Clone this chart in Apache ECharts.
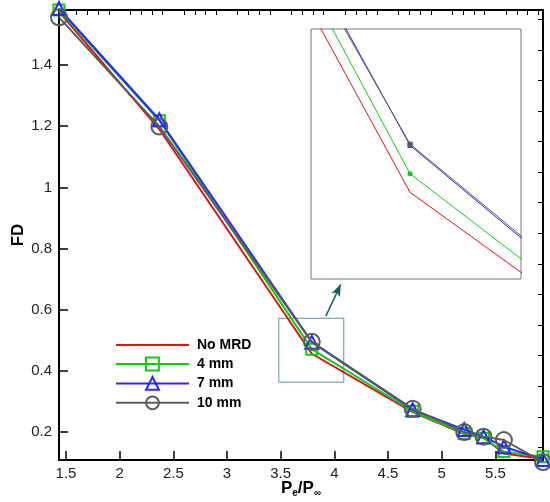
<!DOCTYPE html>
<html>
<head>
<meta charset="utf-8">
<script src="https://cdn.jsdelivr.net/npm/echarts@6/dist/echarts.min.js"></script>
<style>
html, body { margin: 0; padding: 0; background: #fff; }
#chart-container { width: 550px; height: 502px; }
</style>
</head>
<body>
<div id="chart-container"></div>
<script>
// Pe/Pinf values (x) and FD for each case
const xValues = [1.435, 2.37, 3.79, 4.73, 5.21, 5.39, 5.58, 5.944];
const noMrd = [1.575, 1.19, 0.456, 0.265, 0.193, 0.182, 0.130, 0.112];
const mm4 = [1.58, 1.218, 0.471, 0.268, 0.195, 0.180, 0.136, 0.119];
const mm7 = [1.585, 1.221, 0.494, 0.273, 0.208, 0.185, 0.152, 0.110];
const mm10 = [1.556, 1.199, 0.495, 0.276, 0.200, 0.185, 0.174, 0.102];

const xTicks = [1.5, 2, 2.5, 3, 3.5, 4, 4.5, 5, 5.5];
const yTicks = [0.2, 0.4, 0.6, 0.8, 1, 1.2, 1.4];

// minor ticks (0.1 on x, 0.05 on y)
const xMinor = [];
for (let i = 15; i <= 59; i++) if (i % 5) xMinor.push(i / 10);
const yMinor = [];
for (let i = 3; i <= 31; i++) if (i % 2 === 1) yMinor.push(i / 20);

const pairs = arr => xValues.map((x, i) => [x, arr[i]]);

const font = '"Liberation Sans", Arial, sans-serif';

const mainSeries = (name, arr, color, symbol, size, z) => ({
	name: name,
	type: 'line',
	xAxisIndex: 0,
	yAxisIndex: 0,
	data: pairs(arr),
	symbol: symbol,
	symbolSize: size,
	clip: false,
	z: z,
	lineStyle: { color: color, width: 2 },
	itemStyle: { color: 'rgba(255,255,255,0)', borderColor: color, borderWidth: symbol === 'none' ? 0 : 2 },
	emphasis: { disabled: true }
});

const insetSeries = (name, arr, color, symbol, size, z) => ({
	name: name + ' (zoom)',
	type: 'line',
	xAxisIndex: 2,
	yAxisIndex: 2,
	data: pairs(arr),
	symbol: symbol,
	symbolSize: size,
	showSymbol: symbol !== 'none',
	clip: true,
	z: z,
	lineStyle: { color: color, width: 1 },
	itemStyle: { color: color },
	emphasis: { disabled: true }
});

const red = '#e01010';
const green = '#10cc10';
const blue = '#2828ff';
const gray = '#5c5c5c';

const myChart = echarts.init(document.getElementById('chart-container'));

const redMain = mainSeries('No MRD', noMrd, red, 'none', 0, 2);
// zoom box + arrow pointing to the inset
redMain.markArea = {
	silent: true,
	itemStyle: { color: 'rgba(0,0,0,0)', borderColor: '#5a9898', borderWidth: 1 },
	data: [[{ coord: [3.483, 0.572] }, { coord: [4.088, 0.363] }]]
};
redMain.markLine = {
	silent: true,
	symbol: ['none', 'arrow'],
	symbolSize: [7, 12],
	label: { show: false },
	lineStyle: { color: '#1e5c5c', width: 1.5, type: 'solid' },
	data: [[{ coord: [3.921, 0.579] }, { coord: [4.06, 0.683] }]]
};

const option = {
	animation: false,
	backgroundColor: '#fff',
	grid: [
		{ left: 59, top: 10, right: 7, bottom: 42, outerBoundsMode: 'none', containLabel: false, show: true, borderColor: '#000', borderWidth: 2 },
		{ left: 311, top: 29, width: 210, height: 250, outerBoundsMode: 'none', containLabel: false, show: true, borderColor: '#777', borderWidth: 1, backgroundColor: '#fff' }
	],
	legend: {
		orient: 'vertical',
		left: 110,
		top: 333,
		itemWidth: 73,
		itemHeight: 16,
		itemGap: 4.6,
		textStyle: { fontFamily: font, fontWeight: 'bold', fontSize: 14, color: '#000', padding: [0, 0, 0, 3] },
		data: ['No MRD', '4 mm', '7 mm', '10 mm']
	},
	xAxis: [
		{
			type: 'value', gridIndex: 0, min: 1.435, max: 5.944,
			name: 'P{s|e}/P{s|∞}',
			nameLocation: 'middle',
			nameGap: 19,
			nameMoveOverlap: false,
			nameTextStyle: {
				fontFamily: font, fontWeight: 'bold', fontSize: 17, color: '#000',
				rich: { s: { fontFamily: font, fontSize: 10, color: '#000', padding: [9, 0, 0, 0] } }
			},
			axisLine: { lineStyle: { color: '#000', width: 2 } },
			axisTick: { inside: true, length: 9, customValues: xTicks, lineStyle: { color: '#000', width: 1.5 } },
			axisLabel: { customValues: xTicks, fontFamily: font, fontSize: 15, color: '#222', margin: 6 },
			splitLine: { show: false }
		},
		{
			type: 'value', gridIndex: 0, min: 1.435, max: 5.944,
			axisLine: { show: false },
			axisTick: { inside: true, length: 5, customValues: xMinor, lineStyle: { color: '#000', width: 1 } },
			axisLabel: { show: false },
			splitLine: { show: false }
		},
		{ type: 'value', gridIndex: 1, min: 3.506, max: 4.108, show: false, splitLine: { show: false } }
	],
	yAxis: [
		{
			type: 'value', gridIndex: 0, min: 0.1086, max: 1.58,
			name: 'FD',
			nameLocation: 'middle',
			nameGap: 32,
			nameMoveOverlap: false,
			nameRotate: 90,
			nameTextStyle: { fontFamily: font, fontWeight: 'bold', fontSize: 17, color: '#000' },
			axisLine: { lineStyle: { color: '#000', width: 2 } },
			axisTick: { inside: true, length: 9, customValues: yTicks, lineStyle: { color: '#000', width: 1.5 } },
			axisLabel: { customValues: yTicks, fontFamily: font, fontSize: 15, color: '#222', margin: 7 },
			splitLine: { show: false }
		},
		{
			type: 'value', gridIndex: 0, min: 0.1086, max: 1.58,
			axisLine: { show: false },
			axisTick: { inside: true, length: 5, customValues: yMinor, lineStyle: { color: '#000', width: 1 } },
			axisLabel: { show: false },
			splitLine: { show: false }
		},
		{ type: 'value', gridIndex: 1, min: 0.386, max: 0.588, show: false, splitLine: { show: false } }
	],
	series: [
		redMain,
		mainSeries('4 mm', mm4, green, 'rect', 11, 3),
		mainSeries('7 mm', mm7, blue, 'triangle', 13, 4),
		mainSeries('10 mm', mm10, gray, 'circle', 16, 5),
		insetSeries('No MRD', noMrd, red, 'none', 0, 6),
		insetSeries('4 mm', mm4, green, 'circle', 5, 7),
		insetSeries('7 mm', mm7, blue, 'rect', 5, 8),
		insetSeries('10 mm', mm10, gray, 'rect', 5, 9)
	]
};

myChart.setOption(option);
</script>
</body>
</html>
